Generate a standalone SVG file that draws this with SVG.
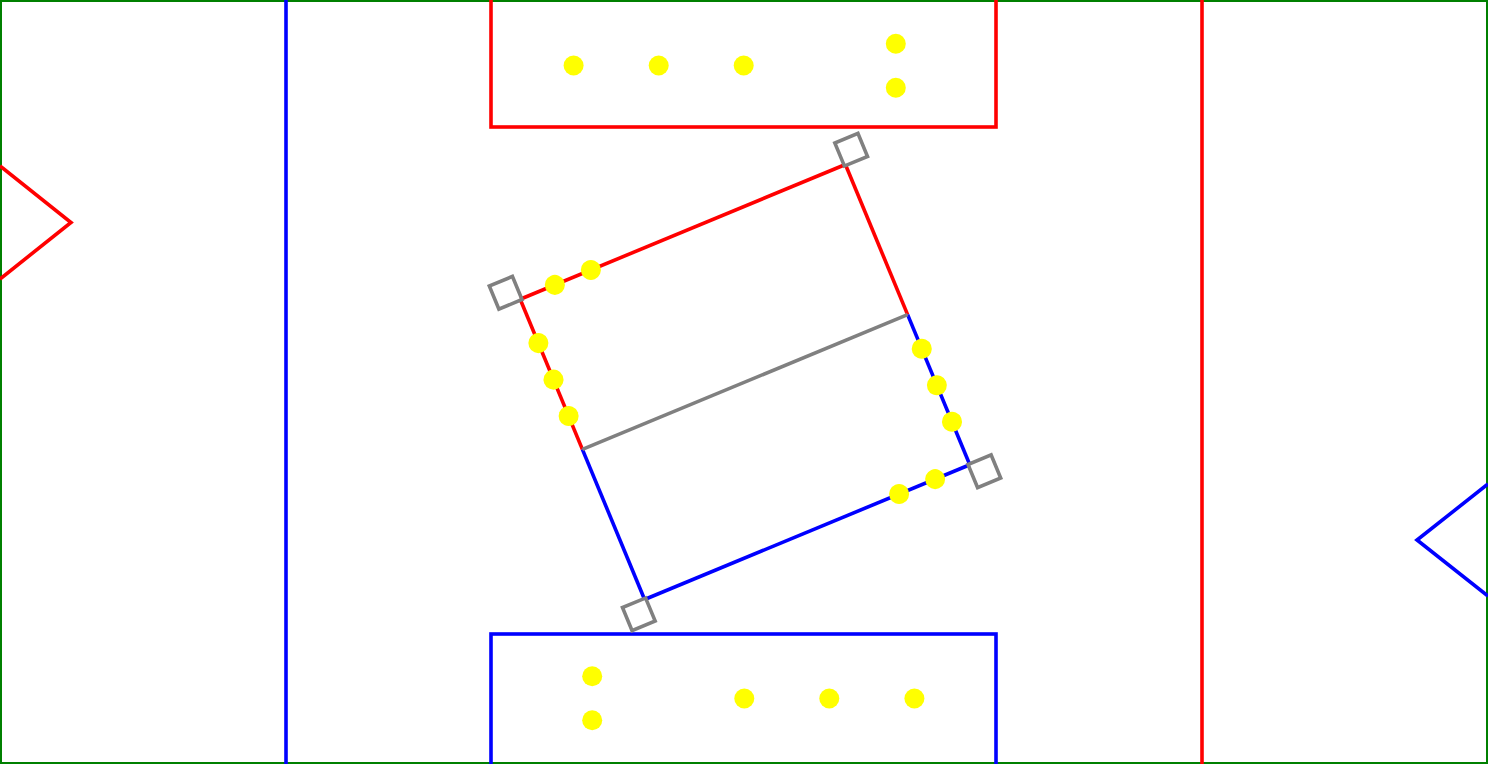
<svg xmlns="http://www.w3.org/2000/svg" width="1488" height="764" viewBox="0 0 1488 764">
<style>
.r{fill:none;stroke:#ff0000;stroke-width:3.6}
.b{fill:none;stroke:#0000ff;stroke-width:3.6}
.g{fill:none;stroke:#808080;stroke-width:3.6}
.d{fill:#ffff00}
</style>
<rect x="0" y="0" width="1488" height="764" fill="#ffffff"/>
<g id="field">
<rect x="1" y="1" width="1486" height="762" fill="none" stroke="#008000" stroke-width="2"/>
<line class="b" x1="286" y1="0" x2="286" y2="764"/>
<line class="r" x1="1202" y1="0" x2="1202" y2="764"/>
<polyline class="r" points="0,166 71,222.5 0,279"/>
<polyline class="b" points="1488,484 1417,540 1488,596"/>
</g>
<g id="top-box">
<rect class="r" x="491" y="-10" width="505" height="137"/>
<circle class="d" cx="573.6" cy="65.5" r="10"/>
<circle class="d" cx="658.7" cy="65.5" r="10"/>
<circle class="d" cx="743.7" cy="65.5" r="10"/>
<circle class="d" cx="895.8" cy="43.7" r="10"/>
<circle class="d" cx="895.8" cy="87.8" r="10"/>
</g>
<g id="bottom-box">
<rect class="b" x="491" y="634" width="505" height="140"/>
<circle class="d" cx="592.2" cy="676.2" r="10"/>
<circle class="d" cx="592.2" cy="720.3" r="10"/>
<circle class="d" cx="744.3" cy="698.5" r="10"/>
<circle class="d" cx="829.3" cy="698.5" r="10"/>
<circle class="d" cx="914.4" cy="698.5" r="10"/>
</g>
<g id="center-area" transform="translate(745,382) rotate(-22.5)">
<g id="connectors">
<line class="r" x1="-176" y1="-162.5" x2="176" y2="-162.5"/>
<line class="r" x1="-176" y1="-162.5" x2="-176" y2="0"/>
<line class="r" x1="176" y1="-162.5" x2="176" y2="0"/>
<line class="b" x1="-176" y1="0" x2="-176" y2="162.5"/>
<line class="b" x1="176" y1="0" x2="176" y2="162.5"/>
<line class="b" x1="-176" y1="162.5" x2="176" y2="162.5"/>
<line class="g" x1="-176" y1="0" x2="176" y2="0"/>
</g>
<g id="corners">
<rect class="g" x="-199.5" y="-186.5" width="25" height="25"/>
<rect class="g" x="174.5" y="-186.5" width="25" height="25"/>
<rect class="g" x="174.5" y="161.5" width="25" height="25"/>
<rect class="g" x="-199.5" y="161.5" width="25" height="25"/>
</g>
<g id="players">
<circle class="d" cx="-138.5" cy="-162.5" r="10"/>
<circle class="d" cx="-99.5" cy="-162.5" r="10"/>
<circle class="d" cx="-176" cy="-115" r="10"/>
<circle class="d" cx="-176" cy="-75.5" r="10"/>
<circle class="d" cx="-176" cy="-36" r="10"/>
<circle class="d" cx="176" cy="37" r="10"/>
<circle class="d" cx="176" cy="76.5" r="10"/>
<circle class="d" cx="176" cy="116" r="10"/>
<circle class="d" cx="99.5" cy="162.5" r="10"/>
<circle class="d" cx="138.5" cy="162.5" r="10"/>
</g>
</g>
</svg>
